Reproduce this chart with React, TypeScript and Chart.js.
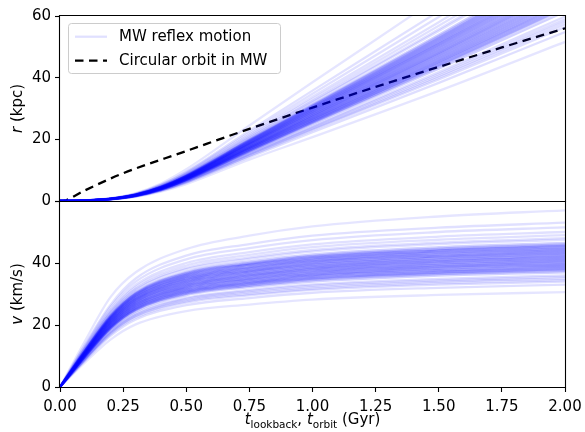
import React, { useEffect, useRef } from 'react';
import { Chart, registerables } from 'chart.js';
Chart.register(...registerables);

// time grids (Gyr)
const T_V = [0, 0.1, 0.2, 0.3, 0.5, 0.75, 1.0, 1.5, 2.0];
const T_R = [0, 0.1, 0.2, 0.3, 0.4, 0.5, 0.75, 1.0, 1.5, 2.0];

// circular orbit in MW (kpc)
const T_CIRC = [0, 0.02, 0.1, 0.25, 0.5, 0.75, 1.0, 1.25, 1.5, 1.75, 2.0];
const R_CIRC = [0, 0.2, 3.5, 9.0, 16.2, 23.4, 30.3, 37.0, 43.5, 49.8, 56.0];

// MW reflex motion: speed (km/s) at T_V
const V_LINES = [
  [0, 15.0, 29.0, 37.0, 44.5, 48.8, 51.8, 55.0, 57.0],
  [0, 8.0, 15.3, 20.2, 24.5, 26.6, 28.2, 29.7, 30.6],
  [0, 13.8, 26.5, 35.0, 42.4, 46.1, 48.8, 51.4, 53.0],
  [0, 13.4, 25.8, 34.0, 41.2, 44.8, 47.4, 50.0, 51.5],
  [0, 13.0, 25.0, 33.0, 40.0, 43.5, 46.0, 48.5, 50.0],
  [0, 12.7, 24.5, 32.3, 39.2, 42.6, 45.1, 47.5, 49.0],
  [0, 12.5, 24.0, 31.7, 38.4, 41.8, 44.2, 46.6, 48.0],
  [0, 12.4, 23.8, 31.4, 38.0, 41.3, 43.7, 46.1, 47.5],
  [0, 12.1, 23.3, 30.7, 37.2, 40.5, 42.8, 45.1, 46.5],
  [0, 12.0, 23.0, 30.4, 36.8, 40.0, 42.3, 44.6, 46.0],
  [0, 11.8, 22.8, 30.0, 36.4, 39.6, 41.9, 44.1, 45.5],
  [0, 11.7, 22.5, 29.7, 36.0, 39.2, 41.4, 43.7, 45.0],
  [0, 11.6, 22.3, 29.4, 35.6, 38.7, 40.9, 43.2, 44.5],
  [0, 11.4, 22.0, 29.0, 35.2, 38.3, 40.5, 42.7, 44.0],
  [0, 11.3, 21.8, 28.7, 34.8, 37.8, 40.0, 42.2, 43.5],
  [0, 11.2, 21.5, 28.4, 34.4, 37.4, 39.6, 41.7, 43.0],
  [0, 11.1, 21.3, 28.1, 34.0, 37.0, 39.1, 41.2, 42.5],
  [0, 10.9, 21.0, 27.7, 33.6, 36.5, 38.6, 40.7, 42.0],
  [0, 10.8, 20.8, 27.4, 33.2, 36.1, 38.2, 40.3, 41.5],
  [0, 10.7, 20.5, 27.1, 32.8, 35.7, 37.7, 39.8, 41.0],
  [0, 10.5, 20.3, 26.7, 32.4, 35.2, 37.3, 39.3, 40.5],
  [0, 10.4, 20.0, 26.4, 32.0, 34.8, 36.8, 38.8, 40.0],
  [0, 10.3, 19.8, 26.1, 31.6, 34.4, 36.3, 38.3, 39.5],
  [0, 10.1, 19.5, 25.7, 31.2, 33.9, 35.9, 37.8, 39.0],
  [0, 10.0, 19.3, 25.4, 30.8, 33.5, 35.4, 37.3, 38.5],
  [0, 9.9, 19.0, 25.1, 30.4, 33.1, 35.0, 36.9, 38.0],
  [0, 9.8, 18.8, 24.8, 30.0, 32.6, 34.5, 36.4, 37.5],
  [0, 9.6, 18.5, 24.4, 29.6, 32.2, 34.0, 35.9, 37.0],
  [0, 9.4, 18.0, 23.8, 28.8, 31.3, 33.1, 34.9, 36.0],
  [0, 9.2, 17.8, 23.4, 28.4, 30.9, 32.7, 34.4, 35.5],
  [0, 9.1, 17.5, 23.1, 28.0, 30.5, 32.2, 34.0, 35.0],
  [0, 9.0, 17.3, 22.8, 27.6, 30.0, 31.7, 33.5, 34.5],
  [0, 8.8, 17.0, 22.4, 27.2, 29.6, 31.3, 33.0, 34.0],
  [0, 8.6, 16.5, 21.8, 26.4, 28.7, 30.4, 32.0, 33.0],
  [0, 11.9, 22.9, 30.2, 36.6, 39.8, 42.1, 44.4, 45.75],
  [0, 11.8, 22.6, 29.9, 36.2, 39.4, 41.6, 43.9, 45.25],
  [0, 11.6, 22.4, 29.5, 35.8, 38.9, 41.2, 43.4, 44.75],
  [0, 11.5, 22.1, 29.2, 35.4, 38.5, 40.7, 42.9, 44.25],
  [0, 11.4, 21.9, 28.9, 35.0, 38.1, 40.3, 42.4, 43.75],
  [0, 11.2, 21.6, 28.5, 34.6, 37.6, 39.8, 42.0, 43.25],
  [0, 11.1, 21.4, 28.2, 34.2, 37.2, 39.3, 41.5, 42.75],
  [0, 11.0, 21.1, 27.9, 33.8, 36.8, 38.9, 41.0, 42.25],
  [0, 10.9, 20.9, 27.6, 33.4, 36.3, 38.4, 40.5, 41.75],
  [0, 10.7, 20.6, 27.2, 33.0, 35.9, 38.0, 40.0, 41.25],
  [0, 10.6, 20.4, 26.9, 32.6, 35.5, 37.5, 39.5, 40.75],
  [0, 10.5, 20.1, 26.6, 32.2, 35.0, 37.0, 39.0, 40.25],
  [0, 10.3, 19.9, 26.2, 31.8, 34.6, 36.6, 38.6, 39.75],
  [0, 10.2, 19.6, 25.9, 31.4, 34.1, 36.1, 38.1, 39.25],
  [0, 10.1, 19.4, 25.6, 31.0, 33.7, 35.7, 37.6, 38.75],
  [0, 9.9, 19.1, 25.2, 30.6, 33.3, 35.2, 37.1, 38.25],
  [0, 9.8, 18.9, 24.9, 30.2, 32.8, 34.7, 36.6, 37.75],
];

// MW reflex motion: distance (kpc) at T_R
const R_LINES = [
  [0, 0.23, 0.91, 2.57, 5.7, 10.3, 24.5, 38.5, 66.1, 94.6],
  [0, 0.12, 0.49, 1.38, 3.06, 5.5, 13.4, 20.7, 35.7, 51.6],
  [0, 0.21, 0.85, 2.39, 5.3, 9.5, 22.8, 35.8, 61.5, 88.0],
  [0, 0.21, 0.82, 2.32, 5.15, 9.3, 22.1, 34.8, 59.7, 85.5],
  [0, 0.20, 0.80, 2.25, 5.0, 9.0, 21.5, 33.8, 58.0, 83.0],
  [0, 0.20, 0.78, 2.21, 4.9, 8.8, 21.1, 33.1, 56.8, 81.3],
  [0, 0.19, 0.77, 2.16, 4.8, 8.6, 20.6, 32.4, 55.7, 79.7],
  [0, 0.19, 0.76, 2.14, 4.75, 8.55, 20.4, 32.1, 55.1, 78.9],
  [0, 0.19, 0.74, 2.09, 4.65, 8.4, 20.0, 31.4, 53.9, 77.2],
  [0, 0.18, 0.74, 2.07, 4.6, 8.3, 19.8, 31.1, 53.4, 76.4],
  [0, 0.18, 0.73, 2.05, 4.55, 8.2, 19.6, 30.7, 52.8, 75.5],
  [0, 0.18, 0.72, 2.03, 4.5, 8.1, 19.4, 30.4, 52.2, 74.7],
  [0, 0.18, 0.71, 2.0, 4.45, 8.0, 19.1, 30.0, 51.6, 73.9],
  [0, 0.18, 0.70, 1.98, 4.4, 7.9, 18.9, 29.7, 51.0, 73.0],
  [0, 0.17, 0.70, 1.96, 4.35, 7.8, 18.7, 29.4, 50.5, 72.2],
  [0, 0.17, 0.69, 1.94, 4.3, 7.7, 18.5, 29.0, 49.9, 71.4],
  [0, 0.17, 0.68, 1.91, 4.25, 7.65, 18.3, 28.7, 49.3, 70.6],
  [0, 0.17, 0.67, 1.89, 4.2, 7.55, 18.1, 28.4, 48.7, 69.7],
  [0, 0.17, 0.66, 1.87, 4.15, 7.45, 17.8, 28.0, 48.1, 68.9],
  [0, 0.16, 0.66, 1.85, 4.1, 7.4, 17.6, 27.7, 47.6, 68.1],
  [0, 0.16, 0.65, 1.82, 4.05, 7.3, 17.4, 27.3, 47.0, 67.2],
  [0, 0.16, 0.64, 1.8, 4.0, 7.2, 17.2, 27.0, 46.4, 66.4],
  [0, 0.16, 0.63, 1.78, 3.95, 7.1, 17.0, 26.7, 45.8, 65.6],
  [0, 0.16, 0.62, 1.76, 3.9, 7.0, 16.8, 26.3, 45.2, 64.7],
  [0, 0.15, 0.62, 1.73, 3.85, 6.9, 16.6, 26.0, 44.7, 63.9],
  [0, 0.15, 0.61, 1.71, 3.8, 6.85, 16.3, 25.7, 44.1, 63.1],
  [0, 0.15, 0.60, 1.69, 3.75, 6.75, 16.1, 25.3, 43.5, 62.3],
  [0, 0.15, 0.59, 1.67, 3.7, 6.65, 15.9, 25.0, 42.9, 61.4],
  [0, 0.14, 0.58, 1.62, 3.6, 6.5, 15.5, 24.3, 41.8, 59.8],
  [0, 0.14, 0.57, 1.6, 3.55, 6.4, 15.3, 24.0, 41.2, 58.9],
  [0, 0.14, 0.56, 1.58, 3.5, 6.3, 15.1, 23.6, 40.6, 58.1],
  [0, 0.14, 0.55, 1.55, 3.45, 6.2, 14.8, 23.3, 40.0, 57.3],
  [0, 0.14, 0.54, 1.53, 3.4, 6.1, 14.6, 23.0, 39.4, 56.4],
  [0, 0.13, 0.53, 1.49, 3.3, 5.9, 14.2, 22.3, 38.3, 54.8],
  [0, 0.18, 0.73, 2.06, 4.58, 8.2, 19.7, 30.9, 53.1, 75.9],
  [0, 0.18, 0.72, 2.04, 4.53, 8.1, 19.5, 30.5, 52.5, 75.1],
  [0, 0.18, 0.72, 2.01, 4.48, 8.05, 19.2, 30.2, 51.9, 74.3],
  [0, 0.18, 0.71, 1.99, 4.43, 7.95, 19.0, 29.9, 51.3, 73.5],
  [0, 0.18, 0.70, 1.97, 4.38, 7.9, 18.8, 29.5, 50.8, 72.6],
  [0, 0.17, 0.69, 1.95, 4.33, 7.8, 18.6, 29.2, 50.2, 71.8],
  [0, 0.17, 0.68, 1.92, 4.28, 7.7, 18.4, 28.9, 49.6, 71.0],
  [0, 0.17, 0.68, 1.90, 4.23, 7.6, 18.2, 28.5, 49.0, 70.1],
  [0, 0.17, 0.67, 1.88, 4.18, 7.5, 18.0, 28.2, 48.4, 69.3],
  [0, 0.17, 0.66, 1.86, 4.13, 7.4, 17.7, 27.8, 47.9, 68.5],
  [0, 0.16, 0.65, 1.83, 4.08, 7.35, 17.5, 27.5, 47.3, 67.6],
  [0, 0.16, 0.64, 1.81, 4.03, 7.25, 17.3, 27.2, 46.7, 66.8],
  [0, 0.16, 0.64, 1.79, 3.98, 7.15, 17.1, 26.8, 46.1, 66.0],
  [0, 0.16, 0.63, 1.77, 3.93, 7.05, 16.9, 26.5, 45.5, 65.2],
  [0, 0.16, 0.62, 1.74, 3.88, 6.95, 16.7, 26.2, 45.0, 64.3],
  [0, 0.15, 0.61, 1.72, 3.83, 6.9, 16.4, 25.8, 44.4, 63.5],
  [0, 0.15, 0.60, 1.70, 3.78, 6.8, 16.2, 25.5, 43.8, 62.7],
];

// per-line opacity (outliers faint, core denser)
const LINE_ALPHA = [
  0.1, 0.1, 0.12, 0.12, 0.12, 0.12, 0.12, 0.12,
  0.18, 0.18, 0.18, 0.18, 0.18, 0.18, 0.18, 0.18, 0.18, 0.18,
  0.18, 0.18, 0.18, 0.18, 0.18, 0.18, 0.18, 0.18, 0.18, 0.18,
  0.13, 0.13, 0.13, 0.13, 0.13, 0.13,
  0.18, 0.18, 0.18, 0.18, 0.18, 0.18, 0.18, 0.18, 0.18,
  0.18, 0.18, 0.18, 0.18, 0.18, 0.18, 0.18, 0.18,
];

const X_MIN = 0;
const X_MAX = 2;
const X_STEP = 0.25;
const R_MAX = 60;
const V_MAX = 60;
const Y_STEP = 20;

const LEGEND_LABELS = ['MW reflex motion', 'Circular orbit in MW'];

const FONT = "'DejaVu Sans', sans-serif";
const FS = 15;
const LEGEND_BLUE = 'rgba(0,0,255,0.12)';
const LW = 2.3;
const DASH = [8.5, 5.5];

const toXY = (ts: number[], vs: number[]) => ts.map((t, i) => ({ x: t, y: vs[i] }));
const blue = (a: number) => `rgba(0,0,255,${a})`;

function frame(ctx: CanvasRenderingContext2D, a: any, topOffset: number) {
  ctx.save();
  ctx.strokeStyle = '#000';
  ctx.lineWidth = 1.1;
  const l = a.left - 0.5;
  const r = a.right + 0.5;
  const t = a.top + topOffset;
  const b = a.bottom + 0.5;
  ctx.beginPath();
  ctx.moveTo(l, t);
  ctx.lineTo(r, t);
  ctx.lineTo(r, b);
  ctx.lineTo(l, b);
  ctx.closePath();
  ctx.stroke();
  ctx.restore();
}

function rotLabel(ctx: CanvasRenderingContext2D, cx: number, cy: number, it: string, rest: string) {
  ctx.save();
  ctx.translate(cx, cy);
  ctx.rotate(-Math.PI / 2);
  ctx.fillStyle = '#000';
  ctx.textBaseline = 'middle';
  ctx.textAlign = 'left';
  ctx.font = `italic ${FS}px ${FONT}`;
  const w1 = ctx.measureText(it).width;
  ctx.font = `${FS}px ${FONT}`;
  const w2 = ctx.measureText(rest).width;
  let x = -(w1 + w2) / 2;
  ctx.font = `italic ${FS}px ${FONT}`;
  ctx.fillText(it, x, 0);
  x += w1;
  ctx.font = `${FS}px ${FONT}`;
  ctx.fillText(rest, x, 0);
  ctx.restore();
}

function xTitle(ctx: CanvasRenderingContext2D, cx: number, base: number) {
  const sub = FS * 0.7;
  const parts = [
    { s: 't', f: `italic ${FS}px ${FONT}`, dy: 0 },
    { s: 'lookback', f: `${sub}px ${FONT}`, dy: 3.5 },
    { s: ', ', f: `${FS}px ${FONT}`, dy: 0 },
    { s: 't', f: `italic ${FS}px ${FONT}`, dy: 0 },
    { s: 'orbit', f: `${sub}px ${FONT}`, dy: 3.5 },
    { s: ' (Gyr)', f: `${FS}px ${FONT}`, dy: 0 },
  ];
  ctx.save();
  ctx.fillStyle = '#000';
  ctx.textBaseline = 'alphabetic';
  ctx.textAlign = 'left';
  let total = 0;
  const ws = parts.map((p) => {
    ctx.font = p.f;
    const w = ctx.measureText(p.s).width;
    total += w;
    return w;
  });
  let x = cx - total / 2;
  parts.forEach((p, i) => {
    ctx.font = p.f;
    ctx.fillText(p.s, x, base + p.dy);
    x += ws[i];
  });
  ctx.restore();
}

function legend(ctx: CanvasRenderingContext2D) {
  ctx.save();
  ctx.beginPath();
  (ctx as any).roundRect(68.5, 23.5, 212, 50, 3);
  ctx.fillStyle = 'rgba(255,255,255,0.8)';
  ctx.fill();
  ctx.strokeStyle = '#cccccc';
  ctx.lineWidth = 1;
  ctx.stroke();
  const rows = [36.7, 60.7];
  ctx.lineWidth = LW;
  ctx.strokeStyle = LEGEND_BLUE;
  ctx.beginPath();
  ctx.moveTo(75, rows[0]);
  ctx.lineTo(107, rows[0]);
  ctx.stroke();
  ctx.strokeStyle = '#000';
  ctx.setLineDash(DASH);
  ctx.beginPath();
  ctx.moveTo(75, rows[1]);
  ctx.lineTo(107, rows[1]);
  ctx.stroke();
  ctx.setLineDash([]);
  ctx.fillStyle = '#000';
  ctx.font = `${FS}px ${FONT}`;
  ctx.textBaseline = 'middle';
  ctx.textAlign = 'left';
  ctx.fillText(LEGEND_LABELS[0], 119, rows[0]);
  ctx.fillText(LEGEND_LABELS[1], 119, rows[1]);
  ctx.restore();
}

const yAxis = (max: number, hideTop: boolean) => ({
  type: 'linear' as const,
  min: 0,
  max,
  afterFit: (s: any) => {
    s.width = 60;
    s.paddingTop = 0;
    s.paddingBottom = 0;
  },
  ticks: {
    stepSize: Y_STEP,
    color: '#000',
    font: { family: FONT, size: FS },
    padding: 4,
    callback: (v: any) => (hideTop && v === max ? '' : String(v)),
  },
  grid: { drawOnChartArea: false, drawTicks: true, tickLength: 5, tickColor: '#000', tickWidth: 1.1 },
  border: { display: false },
});

const lineDataset = (ts: number[], vals: number[], i: number) => ({
  data: toXY(ts, vals),
  borderColor: blue(LINE_ALPHA[i]),
  borderWidth: LW,
  pointRadius: 0,
  fill: false,
  cubicInterpolationMode: 'monotone',
});

export default function App() {
  const topRef = useRef<HTMLCanvasElement>(null);
  const botRef = useRef<HTMLCanvasElement>(null);

  useEffect(() => {
    const topDatasets: any[] = R_LINES.map((vals, i) => lineDataset(T_R, vals, i));
    topDatasets.push({
      data: toXY(T_CIRC, R_CIRC),
      borderColor: '#000',
      borderWidth: LW,
      borderDash: DASH,
      pointRadius: 0,
      fill: false,
      cubicInterpolationMode: 'monotone',
    });

    const top = new Chart(topRef.current!, {
      type: 'line',
      data: { datasets: topDatasets },
      options: {
        animation: false,
        responsive: false,
        devicePixelRatio: 1,
        layout: { autoPadding: false, padding: { left: 0, right: 20, top: 16, bottom: 14 } },
        plugins: { legend: { display: false }, tooltip: { enabled: false } },
        scales: {
          x: { type: 'linear', min: X_MIN, max: X_MAX, display: false },
          y: yAxis(R_MAX, false) as any,
        },
      },
      plugins: [
        {
          id: 'decorTop',
          afterDraw(chart: any) {
            const ctx = chart.ctx;
            const a = chart.chartArea;
            frame(ctx, a, -0.5);
            legend(ctx);
            rotLabel(ctx, 18, (a.top + a.bottom) / 2, 'r', ' (kpc)');
          },
        },
      ],
    });

    const botDatasets: any[] = V_LINES.map((vals, i) => lineDataset(T_V, vals, i));

    const bot = new Chart(botRef.current!, {
      type: 'line',
      data: { datasets: botDatasets },
      options: {
        animation: false,
        responsive: false,
        devicePixelRatio: 1,
        layout: { autoPadding: false, padding: { left: 0, right: 20, top: 10, bottom: 0 } },
        plugins: { legend: { display: false }, tooltip: { enabled: false } },
        scales: {
          x: {
            type: 'linear',
            min: X_MIN,
            max: X_MAX,
            afterFit: (s: any) => {
              s.height = 45;
              s.paddingLeft = 0;
              s.paddingRight = 0;
            },
            ticks: {
              stepSize: X_STEP,
              color: '#000',
              font: { family: FONT, size: FS },
              padding: 6,
              maxRotation: 0,
              callback: (v: any) => Number(v).toFixed(2),
            },
            grid: { drawOnChartArea: false, drawTicks: true, tickLength: 5, tickColor: '#000', tickWidth: 1.1 },
            border: { display: false },
          },
          y: yAxis(V_MAX, true) as any,
        },
      },
      plugins: [
        {
          id: 'decorBot',
          afterDraw(chart: any) {
            const ctx = chart.ctx;
            const a = chart.chartArea;
            frame(ctx, a, 0.5);
            rotLabel(ctx, 18, (a.top + a.bottom) / 2, 'v', ' (km/s)');
            xTitle(ctx, (a.left + a.right) / 2, 233);
          },
        },
      ],
    });

    return () => {
      top.destroy();
      bot.destroy();
    };
  }, []);

  return (
    <div style={{ position: 'absolute', left: 0, top: 0, width: 585, height: 432, background: '#fff' }}>
      <canvas ref={topRef} width={585} height={215} style={{ position: 'absolute', left: 0, top: 0 }} />
      <canvas ref={botRef} width={585} height={241} style={{ position: 'absolute', left: 0, top: 191 }} />
    </div>
  );
}
